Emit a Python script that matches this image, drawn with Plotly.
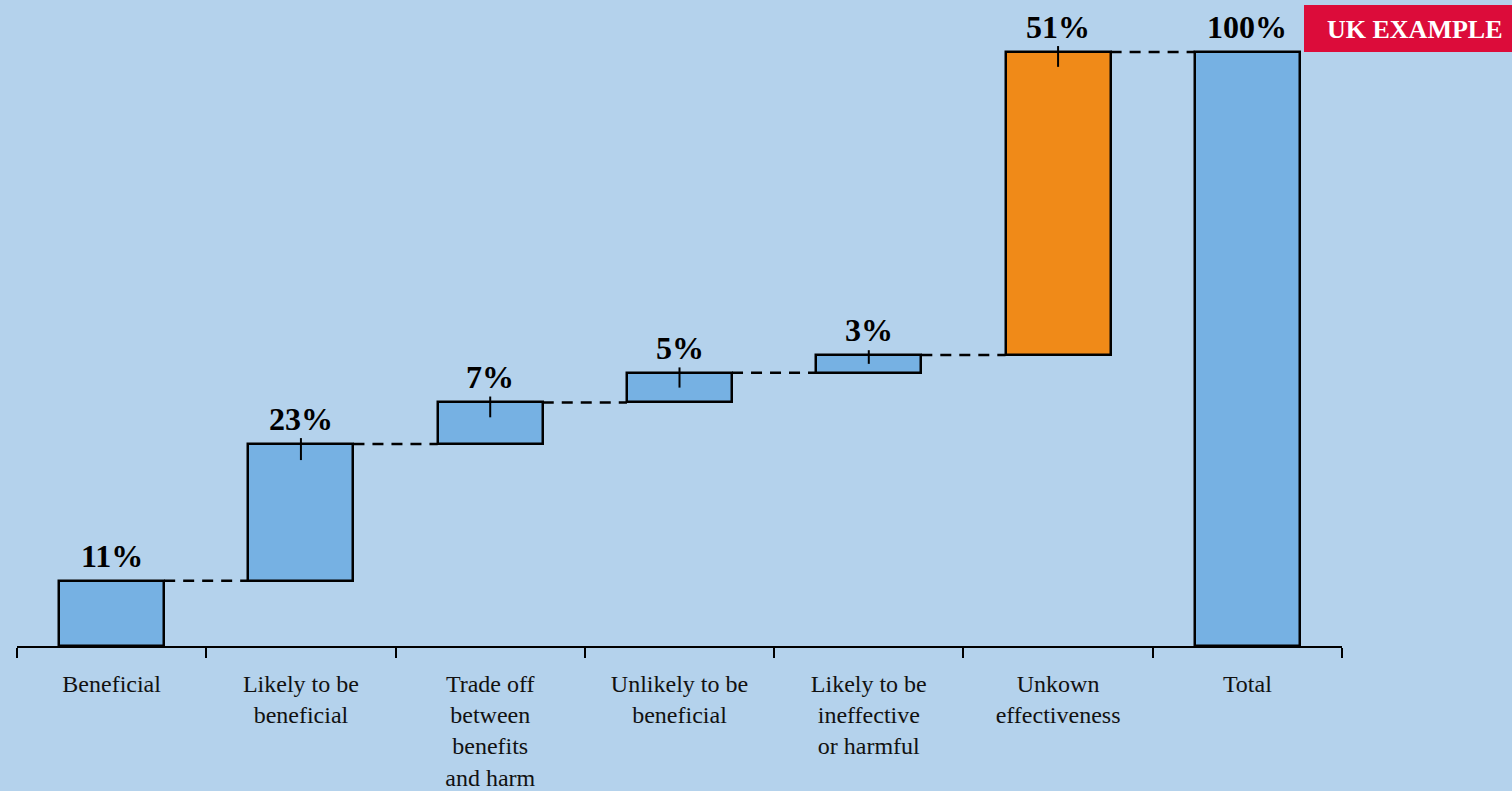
import plotly.graph_objects as go

# Share of treatments by evidence of effectiveness
categories = ["Beneficial", "Likely to be<br>beneficial", "Trade off<br>between<br>benefits<br>and harm",
              "Unlikely to be<br>beneficial", "Likely to be<br>ineffective<br>or harmful",
              "Unkown<br>effectiveness", "Total"]
values = [11, 23, 7, 5, 3, 51, 100]
labels = ["11%", "23%", "7%", "5%", "3%", "51%", "100%"]
is_total = [False, False, False, False, False, False, True]
tick_up = [0, 1.0, 1.0, 0.9, 0.8, 1.0, 0]
tick_down = [0, 2.7, 2.5, 2.5, 1.5, 2.5, 0]

BG = "#b4d2ec"
BLUE = "#76b1e3"
ORANGE = "#f08a18"
SERIF = "Liberation Serif"

# cumulative bases for the waterfall
bases, tops = [], []
running = 0
for v, tot in zip(values, is_total):
    if tot:
        bases.append(0)
        tops.append(v)
    else:
        bases.append(running)
        running += v
        tops.append(running)

colors = [ORANGE if c.startswith("Unkown") else BLUE for c in categories]
xs = list(range(len(categories)))
bar_w = 0.555

fig = go.Figure()
fig.add_trace(go.Bar(
    x=xs, y=values, base=bases, width=bar_w,
    marker=dict(color=colors, line=dict(color="black", width=2.5)),
    error_y=dict(type="data", symmetric=False, array=tick_up, arrayminus=tick_down,
                 color="black", thickness=2, width=0),
    showlegend=False, hoverinfo="skip",
))

# dashed connectors between consecutive bars
for i in range(len(values) - 1):
    level = tops[i]
    fig.add_trace(go.Scatter(
        x=[xs[i] + bar_w / 2, xs[i + 1] - bar_w / 2], y=[level, level],
        mode="lines", line=dict(color="black", width=2.5, dash="11px,8px"),
        showlegend=False, hoverinfo="skip",
    ))

# value labels above each bar
for x, t, lab in zip(xs, tops, labels):
    fig.add_annotation(x=x, y=t, text=f"<b>{lab}</b>", showarrow=False,
                       yanchor="bottom", yshift=5,
                       font=dict(family=SERIF, size=32, color="black"))

# ticks on category boundaries
fig.update_xaxes(
    range=[-0.5, 6.5], tickmode="array",
    tickvals=[x - 0.5 for x in xs] + [6.5], ticktext=[""] * 8,
    ticks="outside", ticklen=10, tickwidth=2, tickcolor="black",
    showline=True, linecolor="black", linewidth=2, showgrid=False, zeroline=False,
    automargin=False,
)
# category labels on an overlaid axis
fig.update_layout(xaxis2=dict(
    overlaying="x", side="bottom", range=[-0.5, 6.5], tickmode="array",
    tickvals=xs, ticktext=categories, ticks="", showline=False, showgrid=False,
    zeroline=False, ticklabelstandoff=21, automargin=False,
    tickfont=dict(family=SERIF, size=24, color="#111111"),
))
fig.add_trace(go.Scatter(x=[0], y=[0], xaxis="x2", mode="markers",
                         marker=dict(opacity=0), showlegend=False, hoverinfo="skip"))

fig.update_yaxes(range=[0, 100 * 646 / 594], visible=False, showgrid=False,
                 zeroline=False, automargin=False)

# badge in the top-right corner
fig.add_shape(type="rect", xref="paper", yref="paper",
              x0=(1304 - 17) / 1325, x1=(1512 - 17) / 1325,
              y0=1 - 52 / 646, y1=1 - 5 / 646,
              fillcolor="#dc0c3a", line=dict(width=0), layer="above")
fig.add_annotation(xref="paper", yref="paper",
                   x=(1415 - 17) / 1325, y=1 - 30 / 646,
                   text="<b>UK EXAMPLE</b>", showarrow=False,
                   xanchor="center", yanchor="middle",
                   font=dict(family=SERIF, size=26, color="white"))

fig.update_layout(
    width=1512, height=791,
    margin=dict(l=17, r=170, t=0, b=145, autoexpand=False),
    paper_bgcolor=BG, plot_bgcolor=BG,
    bargap=0, showlegend=False,
)

fig.write_html("out.html")
